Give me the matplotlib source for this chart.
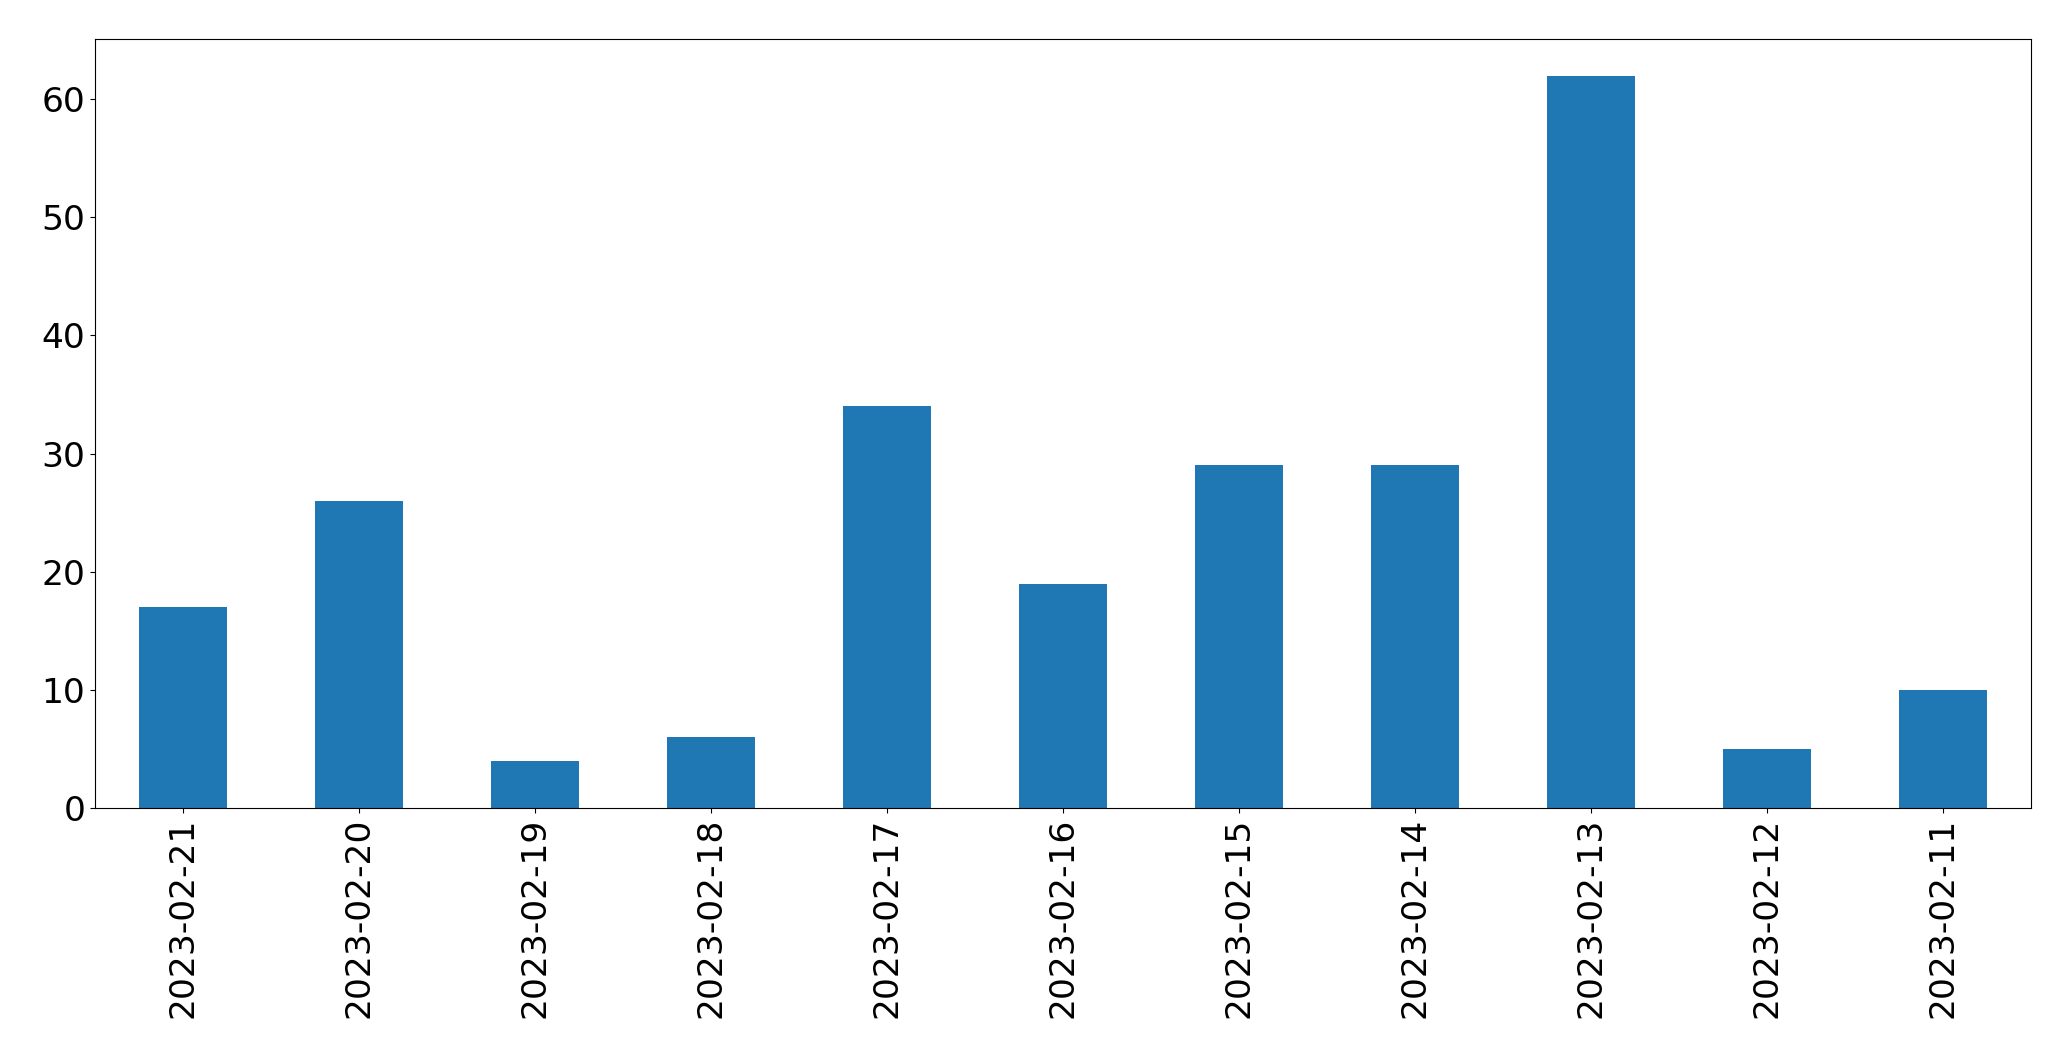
import matplotlib
matplotlib.use("Agg")
import matplotlib.pyplot as plt
import pandas as pd

# даты и значения
dates = ["2023-02-21", "2023-02-20", "2023-02-19", "2023-02-18", "2023-02-17",
         "2023-02-16", "2023-02-15", "2023-02-14", "2023-02-13", "2023-02-12",
         "2023-02-11"]
counts = [17, 26, 4, 6, 34, 19, 29, 29, 62, 5, 10]

series = pd.Series(counts, index=dates)

fig, ax = plt.subplots(figsize=(20.71, 10.61), dpi=100)
series.plot(kind="bar", ax=ax, color="#1f77b4")
ax.tick_params(axis="both", labelsize=24.8)

plt.subplots_adjust(left=0.0459, right=0.9807, top=0.9633, bottom=0.2385)
plt.savefig("out.png", dpi=100)
plt.close()
